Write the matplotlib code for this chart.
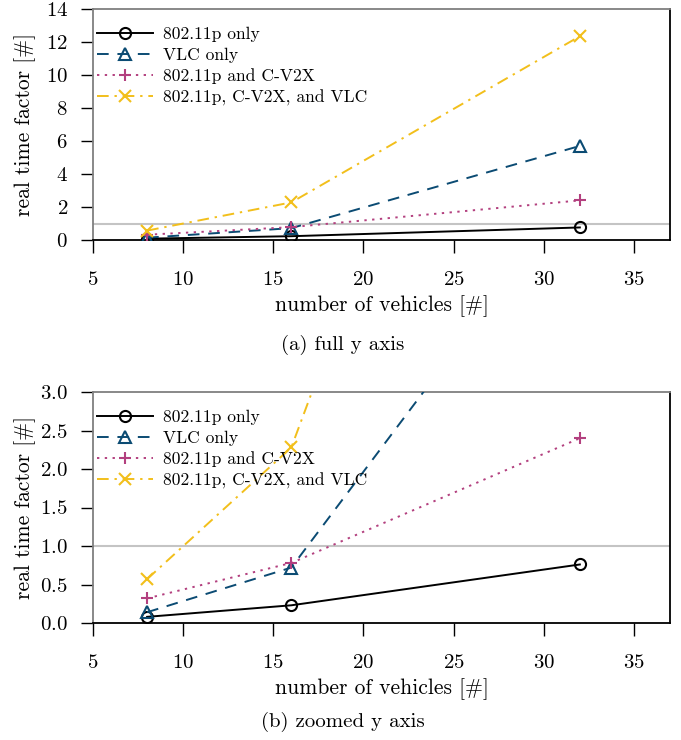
import matplotlib
matplotlib.use("Agg")
import matplotlib.pyplot as plt

plt.rcParams["font.family"] = ["cmr10", "DejaVu Serif"]
plt.rcParams["mathtext.fontset"] = "cm"
plt.rcParams["axes.formatter.use_mathtext"] = True

vehicles = [8, 16, 32]
p_only = [0.08, 0.23, 0.76]
vlc_only = [0.14, 0.72, 5.70]
p_cv2x = [0.32, 0.78, 2.40]
p_cv2x_vlc = [0.57, 2.28, 12.35]

labels = ["802.11p only", "VLC only", "802.11p and C-V2X", "802.11p, C-V2X, and VLC"]
colors = ["black", "#0b4b73", "#b3407f", "#f2bf1b"]
styles = ["-", (0, (6, 4.5)), (0, (1.2, 2.8)), (0, (6, 3, 1.2, 3))]
markers = ["o", "^", "+", "x"]
series = [p_only, vlc_only, p_cv2x, p_cv2x_vlc]

W, H = 681, 740
fig = plt.figure(figsize=(W / 100, H / 100), dpi=100)


def make_axes(top, bottom, ylim, yticks, caption, xlab_y, cap_y):
    ax = fig.add_axes([93 / W, 1 - bottom / H, 577 / W, (bottom - top) / H])
    ax.axhline(1.0, color="#c4c4c4", lw=1.5, zorder=1)
    for s, lab, c, ls, m in zip(series, labels, colors, styles, markers):
        mfc = "none" if m in ("o", "^") else c
        ax.plot(vehicles, s, color=c, ls=ls, lw=1.4, marker=m, ms=9 if m != "o" else 8,
                mfc=mfc, mec=c, mew=1.5, label=lab, zorder=3)
    ax.set_xlim(5, 37)
    ax.set_ylim(*ylim)
    ax.set_xticks([5, 10, 15, 20, 25, 30, 35])
    ax.set_yticks(yticks)
    ax.spines["top"].set_color("#7f7f7f")
    ax.spines["left"].set_color("#7f7f7f")
    ax.spines["right"].set_color("black")
    ax.spines["bottom"].set_color("black")
    for sp in ax.spines.values():
        sp.set_linewidth(1.3)
    ax.tick_params(direction="out", length=9, width=1.0, labelsize=15,
                   top=False, right=False)
    ax.tick_params(axis="x", pad=13)
    ax.tick_params(axis="y", pad=9)
    ax.set_xlabel("number of vehicles [#]", fontsize=15.5, va="center")
    ax.set_ylabel("real time factor [#]", fontsize=15.5, va="center")
    ax.xaxis.set_label_coords(0.5, -(xlab_y - bottom) / (bottom - top))
    ax.yaxis.set_label_coords(-(93 - 25) / 577, 0.5)
    ax.legend(loc="upper left", frameon=False, fontsize=12.6, handlelength=3.2,
              handletextpad=0.55, labelspacing=0.32, borderaxespad=0.0,
              bbox_to_anchor=(-0.005, 0.955))
    fig.text(343 / W, 1 - cap_y / H, caption, ha="center", va="center", fontsize=15)
    return ax


make_axes(9, 240, (0, 14), [0, 2, 4, 6, 8, 10, 12, 14], "(a) full y axis", 306, 345)
make_axes(392, 623, (0, 3), [0.0, 0.5, 1.0, 1.5, 2.0, 2.5, 3.0], "(b) zoomed y axis", 689, 722)

fig.savefig("out.png", dpi=100)
